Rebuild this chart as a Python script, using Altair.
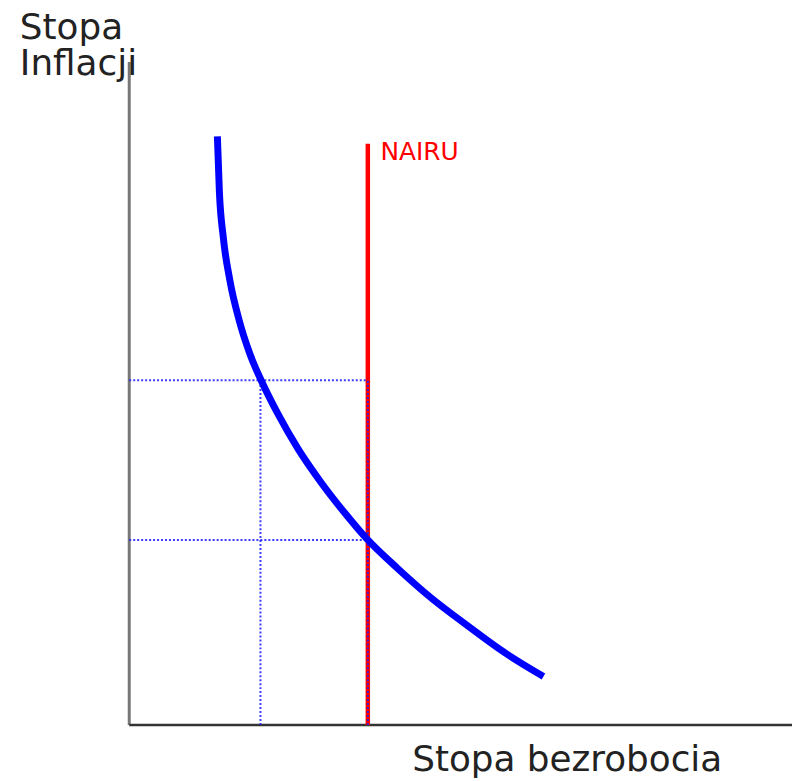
import altair as alt
import pandas as pd

# Phillips curve (values in plot units, 0-100 on both axes)
curve_x = [13.3, 13.6, 14.2, 15.2, 16.6, 18.2, 19.9, 22.5, 25.5, 29.0, 32.5, 36.0, 40.5, 45.5, 51.0, 56.5, 62.5]
curve_y = [88.8, 80.5, 73.5, 67.0, 61.0, 56.0, 52.0, 46.8, 41.6, 36.5, 32.0, 27.9, 23.6, 19.2, 15.0, 11.0, 7.3]

nairu_x = 36.0
nairu_top = 87.7
high_infl_y = 52.0
low_unemp_x = 19.8
nairu_infl_y = 27.9

y_title_lines = ["Stopa", "Inflacji"]
x_title = "Stopa bezrobocia"
nairu_label = "NAIRU"

xs = alt.Scale(domain=[0, 100], nice=False, zero=False)
ys = alt.Scale(domain=[0, 100], nice=False, zero=False)

curve_df = pd.DataFrame({"x": curve_x, "y": curve_y, "i": range(len(curve_x))})

X = lambda f="x:Q": alt.X(f, scale=xs, axis=None)
Y = lambda f="y:Q": alt.Y(f, scale=ys, axis=None)

# axes
y_axis = alt.Chart(pd.DataFrame({"x": [0], "y": [0], "y2": [100]})).mark_rule(
    color="#777777", strokeWidth=3).encode(x=X(), y=Y(), y2="y2:Q")
x_axis = alt.Chart(pd.DataFrame({"x": [0], "x2": [100], "y": [0]})).mark_rule(
    color="#333333", strokeWidth=2.5).encode(x=X(), x2="x2:Q", y=Y())

nairu = alt.Chart(pd.DataFrame({"x": [nairu_x], "y": [0], "y2": [nairu_top]})).mark_rule(
    color="#ff0000", strokeWidth=4.5).encode(x=X(), y=Y(), y2="y2:Q")

hdf = pd.DataFrame({"x": [0, 0], "x2": [nairu_x, nairu_x], "y": [high_infl_y, nairu_infl_y]})
hdots = alt.Chart(hdf).mark_rule(color="#1a1aff", strokeWidth=2, strokeDash=[2, 2], opacity=0.85).encode(
    x=X(), x2="x2:Q", y=Y())
vdf = pd.DataFrame({"x": [low_unemp_x, nairu_x], "y": [0, 0], "y2": [high_infl_y, high_infl_y]})
vdots = alt.Chart(vdf).mark_rule(color="#1a1aff", strokeWidth=2, strokeDash=[2, 2], opacity=0.85).encode(
    x=X(), y=Y(), y2="y2:Q")

curve = alt.Chart(curve_df).mark_line(color="#0000ff", strokeWidth=7, interpolate="monotone",
                                      strokeCap="butt").encode(x=X(), y=Y(), order="i:Q")

label = alt.Chart(pd.DataFrame({"x": [37.9], "y": [85.2], "t": [nairu_label]})).mark_text(
    align="left", baseline="alphabetic", font="DejaVu Sans", fontSize=25, color="#ff0000").encode(
    x=X(), y=Y(), text="t:N")

ytitle = alt.Chart(pd.DataFrame({"x": [-16.5, -16.5], "y": [103.45, 98.05], "t": y_title_lines})).mark_text(
    align="left", baseline="alphabetic", font="DejaVu Sans", fontSize=36, color="#222222").encode(
    x=X(), y=Y(), text="t:N")

xtitle = alt.Chart(pd.DataFrame({"x": [42.7], "y": [-6.9], "t": [x_title]})).mark_text(
    align="left", baseline="alphabetic", font="DejaVu Sans", fontSize=36, color="#222222").encode(
    x=X(), y=Y(), text="t:N")

chart = alt.layer(y_axis, x_axis, nairu, hdots, vdots, curve, label, ytitle, xtitle).properties(
    width=667, height=667,
    padding={"left": 122, "top": 52, "right": 0, "bottom": 53},
    autosize=alt.AutoSizeParams(type="none"),
).configure_view(stroke=None)

chart.save("out.html", embed_options={"renderer": "svg", "actions": False})
